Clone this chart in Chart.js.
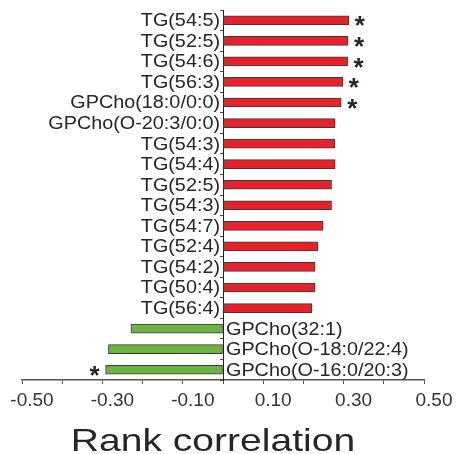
<!DOCTYPE html>
<html>
<head>
<meta charset="utf-8">
<script src="https://cdn.jsdelivr.net/npm/chart.js@4.4.0/dist/chart.umd.min.js"></script>
<style>
  body { margin: 0; background: #fff; }
  #wrap { width: 456px; height: 454px; }
</style>
</head>
<body>
<div id="wrap"><canvas id="myChart" width="456" height="454"></canvas></div>
<script>
var lipids = ['TG(54:5)', 'TG(52:5)', 'TG(54:6)', 'TG(56:3)', 'GPCho(18:0/0:0)',
  'GPCho(O-20:3/0:0)', 'TG(54:3)', 'TG(54:4)', 'TG(52:5)', 'TG(54:3)', 'TG(54:7)',
  'TG(52:4)', 'TG(54:2)', 'TG(50:4)', 'TG(56:4)', 'GPCho(32:1)',
  'GPCho(O-18:0/22:4)', 'GPCho(O-16:0/20:3)'];
var rankCorr = [0.313, 0.311, 0.310, 0.298, 0.294, 0.279, 0.278, 0.279, 0.270, 0.270,
  0.249, 0.236, 0.229, 0.229, 0.221, -0.229, -0.285, -0.292];
var significant = [1, 1, 1, 1, 1, 0, 0, 0, 0, 0, 0, 0, 0, 0, 0, 0, 0, 1];
var xTicks = [-0.5, -0.3, -0.1, 0.1, 0.3, 0.5];
var axisTitle = 'Rank correlation';

var labelFont = '18px "Liberation Sans", Arial, sans-serif';

// category labels, asterisks and axis title drawn with the scales
var annotate = {
  id: 'annotate',
  afterDraw: function (chart) {
    var c = chart.ctx, xs = chart.scales.x, ys = chart.scales.y;
    var x0 = xs.getPixelForValue(0);
    c.save();
    c.fillStyle = '#262626';
    c.font = labelFont;
    c.textBaseline = 'middle';
    lipids.forEach(function (name, i) {
      var y = ys.getPixelForValue(i);
      c.save();
      if (rankCorr[i] >= 0) {
        c.translate(x0 - 3, y + 1);
        c.scale(1.1, 1);
        c.textAlign = 'right';
      } else {
        c.translate(x0 + 3, y + 1);
        c.scale(1.1, 1);
        c.textAlign = 'left';
      }
      c.fillText(name, 0, 0);
      c.restore();
      if (significant[i]) {
        var xe = xs.getPixelForValue(rankCorr[i]);
        c.save();
        c.font = 'bold 26px "Liberation Sans", Arial, sans-serif';
        c.textAlign = 'center';
        c.fillText('*', rankCorr[i] >= 0 ? xe + 11 : xe - 11, y + 7);
        c.restore();
      }
    });
    c.save();
    c.font = '32px "Liberation Sans", Arial, sans-serif';
    c.textAlign = 'center';
    c.textBaseline = 'alphabetic';
    c.translate(213, 451);
    c.scale(1.22, 1);
    c.fillText(axisTitle, 0, 0);
    c.restore();
    c.restore();
  }
};

var ctx = document.getElementById('myChart');
var myChart = new Chart(ctx, {
  type: 'bar',
  data: {
    labels: lipids,
    datasets: [{
      label: 'Rank correlation',
      data: rankCorr,
      backgroundColor: function (cx) {
        return cx.raw >= 0 ? '#e8222a' : '#6bb441';
      },
      borderColor: '#3a3a3a',
      borderWidth: 1,
      borderSkipped: false,
      barThickness: 9
    }]
  },
  options: {
    indexAxis: 'y',
    responsive: false,
    animation: false,
    layout: { padding: { left: 22, right: 32, top: 10, bottom: 0 } },
    plugins: { legend: { display: false }, tooltip: { enabled: false } },
    scales: {
      x: {
        min: -0.5,
        max: 0.5,
        afterBuildTicks: function (axis) {
          var t = [];
          for (var k = -5; k <= 5; k++) t.push({ value: k / 10 });
          axis.ticks = t;
        },
        afterFit: function (axis) {
          axis.height = 74;
          axis.paddingLeft = 0;
          axis.paddingRight = 0;
        },
        grid: { drawOnChartArea: false, tickLength: 4, tickColor: '#555', lineWidth: 1 },
        border: { color: '#555', width: 1.5 },
        ticks: {
          autoSkip: false,
          maxRotation: 0,
          labelOffset: 10,
          padding: 5,
          color: '#333',
          font: { family: '"Liberation Sans", Arial, sans-serif', size: 19 },
          callback: function (v) {
            var hit = xTicks.find(function (t) { return Math.abs(t - v) < 1e-6; });
            return hit === undefined ? '' : hit.toFixed(2);
          }
        }
      },
      y: {
        position: { x: 0 },
        afterFit: function (axis) { axis.width = 0; },
        grid: { drawOnChartArea: false, tickLength: 3, tickColor: '#444', offset: true },
        border: { color: '#222', width: 1 },
        ticks: { display: false }
      }
    }
  },
  plugins: [annotate]
});
</script>
</body>
</html>
